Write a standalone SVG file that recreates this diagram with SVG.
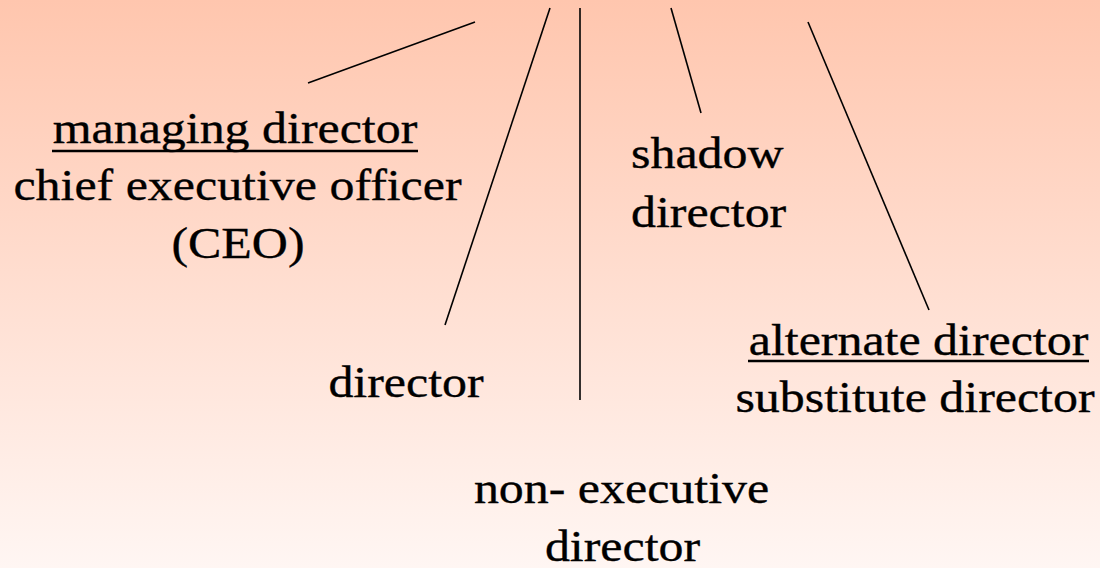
<svg xmlns="http://www.w3.org/2000/svg" width="1100" height="568" viewBox="0 0 1100 568">
<defs>
<linearGradient id="bg" x1="0" y1="0" x2="0" y2="1">
<stop offset="0" stop-color="#FFC6AE"/>
<stop offset="1" stop-color="#FFF6F3"/>
</linearGradient>
<style>
text{font-size:45px;fill:#000;stroke:#000;stroke-width:0.35}
.m{text-anchor:middle}
.s{text-anchor:start}
.c{stroke:#000;stroke-width:1.6;fill:none}
.u{stroke:#000;stroke-width:2.5}
</style>
</defs>
<rect width="1100" height="568" fill="url(#bg)"/>
<g id="connectors">
<line class="c" x1="475" y1="22" x2="308" y2="83"/>
<line class="c" x1="550" y1="8" x2="445" y2="325"/>
<line class="c" x1="580" y1="8" x2="580" y2="400"/>
<line class="c" x1="671" y1="8" x2="701" y2="113"/>
<line class="c" x1="808" y1="22" x2="929" y2="310"/>
</g>
<g font-family="'Liberation Serif', 'Times New Roman', Times, serif">
<g id="managing-director">
<text class="m" transform="translate(235,143) scale(1.11,1)">managing director</text>
<line class="u" x1="52" y1="151" x2="418" y2="151"/>
<text class="m" transform="translate(237.5,200) scale(1.11,1)">chief executive officer</text>
<text class="m" transform="translate(238,257.5) scale(1.11,1)">(CEO)</text>
</g>
<g id="director">
<text class="m" transform="translate(406,396.5) scale(1.11,1)">director</text>
</g>
<g id="shadow-director">
<text class="s" transform="translate(631,168) scale(1.11,1)">shadow</text>
<text class="s" transform="translate(631,227) scale(1.11,1)">director</text>
</g>
<g id="alternate-director">
<text class="m" transform="translate(918.5,355) scale(1.11,1)">alternate director</text>
<line class="u" x1="748" y1="361" x2="1089" y2="361"/>
<text class="m" transform="translate(915,411.5) scale(1.11,1)">substitute director</text>
</g>
<g id="non-executive-director">
<text class="m" transform="translate(621.5,503) scale(1.11,1)">non- executive</text>
<text class="m" transform="translate(622.5,560.5) scale(1.11,1)">director</text>
</g>
</g>
</svg>
